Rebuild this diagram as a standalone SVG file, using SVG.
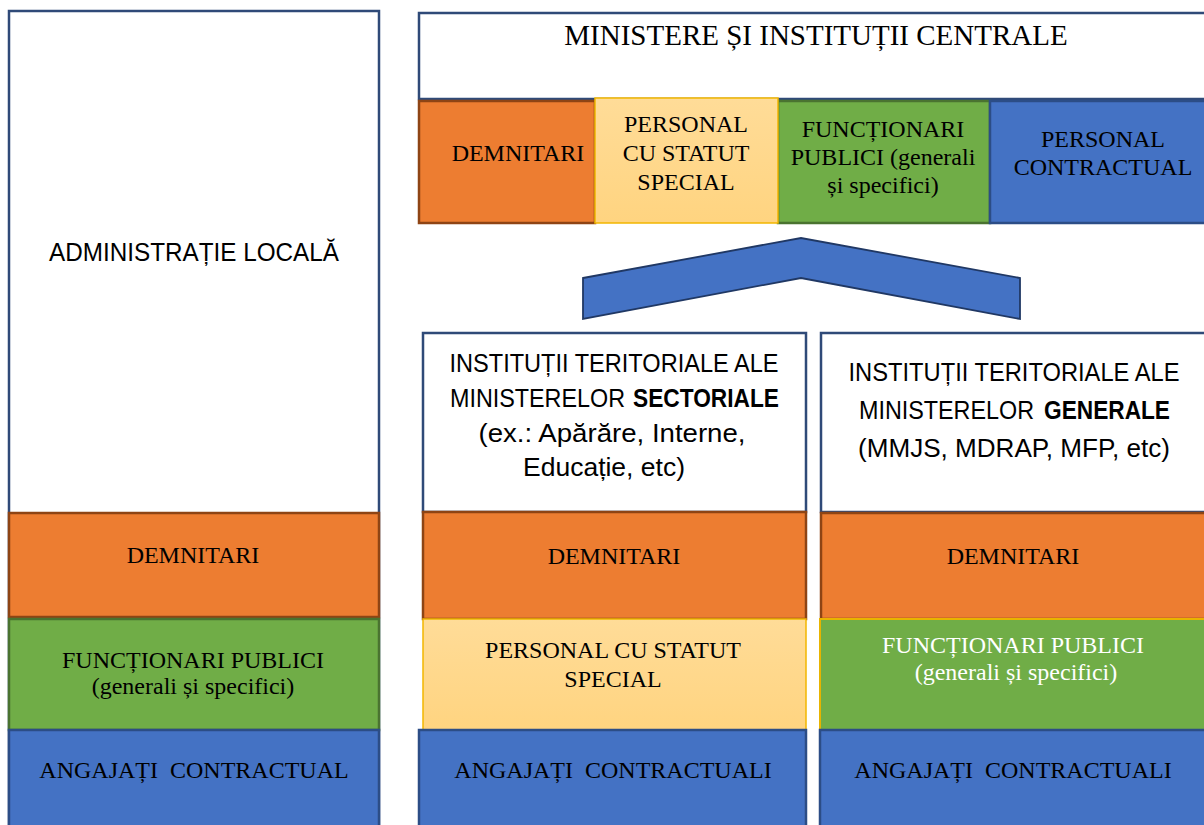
<svg xmlns="http://www.w3.org/2000/svg" width="1204" height="825" viewBox="0 0 1204 825">
<style>
.wb{fill:#ffffff;stroke:#2F4A78;stroke-width:2.5}
.or{fill:#ED7D31;stroke:#8E4414;stroke-width:2.5}
.gr{fill:#70AD47;stroke:#4A7330;stroke-width:2.5}
.grg{fill:#70AD47;stroke:#E8B400;stroke-width:2}
.ye{fill:url(#yg);stroke:#F2B600;stroke-width:1.5}
.bl{fill:#4472C4;stroke:#2C4D86;stroke-width:2.5}
.tr{font-family:"Liberation Serif","Times New Roman",serif;font-size:24px;fill:#000;text-anchor:middle}
.tw{fill:#ffffff}
.ts{font-family:"Liberation Sans",Arial,sans-serif;font-size:25px;fill:#000;text-anchor:middle}
.st{text-anchor:start}
.en{text-anchor:end;font-weight:bold}
.big{font-size:29px}
.pre{white-space:pre}
</style>
<defs>
<linearGradient id="yg" x1="0" y1="0" x2="0" y2="1">
<stop offset="0" stop-color="#FFDC98"/>
<stop offset="1" stop-color="#FFD480"/>
</linearGradient>
</defs>

<g id="admin-locala">
<rect class="wb" x="9" y="11" width="370" height="830"/>
<text class="ts" x="194" y="261" textLength="290" lengthAdjust="spacingAndGlyphs">ADMINISTRAȚIE LOCALĂ</text>
</g>
<g id="local-demnitari">
<rect class="or" x="9" y="513" width="370" height="104"/>
<text class="tr" x="193" y="563">DEMNITARI</text>
</g>
<g id="local-functionari">
<rect class="gr" x="9" y="619" width="370" height="111"/>
<text class="tr" x="193" y="668">FUNCȚIONARI PUBLICI</text>
<text class="tr" x="193" y="694">(generali și specifici)</text>
</g>
<g id="local-angajati">
<rect class="bl" x="9" y="730" width="370" height="110"/>
<text class="tr pre" x="194" y="778" xml:space="preserve">ANGAJAȚI  CONTRACTUAL</text>
</g>

<g id="ministere">
<rect class="wb" x="419" y="13" width="800" height="86"/>
<text class="tr big" x="816" y="45">MINISTERE ȘI INSTITUȚII CENTRALE</text>
</g>
<g id="min-demnitari">
<rect class="or" x="419" y="101" width="176" height="122"/>
<text class="tr" x="518" y="161">DEMNITARI</text>
</g>
<g id="min-functionari">
<rect class="gr" x="778" y="101" width="212" height="122"/>
<text class="tr" x="883" y="137">FUNCȚIONARI</text>
<text class="tr" x="883" y="165">PUBLICI (generali</text>
<text class="tr" x="883" y="193">și specifici)</text>
</g>
<g id="min-contractual">
<rect class="bl" x="990" y="101" width="230" height="122"/>
<text class="tr" x="1103" y="147">PERSONAL</text>
<text class="tr" x="1103" y="175">CONTRACTUAL</text>
</g>
<g id="min-statut">
<rect class="ye" x="595" y="98" width="183" height="125"/>
<text class="tr" x="686" y="132">PERSONAL</text>
<text class="tr" x="686" y="161">CU STATUT</text>
<text class="tr" x="686" y="190">SPECIAL</text>
</g>

<g id="connectors">
<polygon points="583,278 801,238 1020,278 1020,319 801,278 583,319" fill="#4472C4" stroke="#203864" stroke-width="1.8" stroke-linejoin="miter"/>
</g>

<g id="sectoriale">
<rect class="wb" x="423" y="333" width="383" height="179"/>
<text class="ts" x="614" y="372" textLength="329" lengthAdjust="spacingAndGlyphs">INSTITUȚII TERITORIALE ALE</text>
<text class="ts st" x="450" y="407" textLength="175" lengthAdjust="spacingAndGlyphs">MINISTERELOR</text>
<text class="ts en" x="779" y="407" textLength="146" lengthAdjust="spacingAndGlyphs">SECTORIALE</text>
<text class="ts" x="612" y="442" textLength="267" lengthAdjust="spacingAndGlyphs">(ex.: Apărăre, Interne,</text>
<text class="ts" x="604" y="476" textLength="162" lengthAdjust="spacingAndGlyphs">Educație, etc)</text>
</g>
<g id="sect-demnitari">
<rect class="or" x="423" y="512" width="383" height="107"/>
<text class="tr" x="614" y="564">DEMNITARI</text>
</g>
<g id="sect-statut">
<rect class="ye" x="423" y="619" width="383" height="111"/>
<text class="tr" x="613" y="658">PERSONAL CU STATUT</text>
<text class="tr" x="613" y="687">SPECIAL</text>
</g>
<g id="sect-angajati">
<rect class="bl" x="419" y="730" width="387" height="110"/>
<text class="tr pre" x="613" y="778" xml:space="preserve">ANGAJAȚI  CONTRACTUALI</text>
</g>

<g id="generale">
<rect class="wb" x="821" y="333" width="400" height="179"/>
<text class="ts" x="1014" y="381" textLength="331" lengthAdjust="spacingAndGlyphs">INSTITUȚII TERITORIALE ALE</text>
<text class="ts st" x="859" y="419" textLength="175" lengthAdjust="spacingAndGlyphs">MINISTERELOR</text>
<text class="ts en" x="1170" y="419" textLength="126" lengthAdjust="spacingAndGlyphs">GENERALE</text>
<text class="ts" x="1014" y="457" textLength="312" lengthAdjust="spacingAndGlyphs">(MMJS, MDRAP, MFP, etc)</text>
</g>
<g id="gen-demnitari">
<rect class="or" x="821" y="513" width="400" height="106"/>
<text class="tr" x="1013" y="564">DEMNITARI</text>
</g>
<g id="gen-functionari">
<rect class="grg" x="820" y="619" width="400" height="111"/>
<text class="tr tw" x="1013" y="653">FUNCȚIONARI PUBLICI</text>
<text class="tr tw" x="1016" y="680">(generali și specifici)</text>
</g>
<g id="gen-angajati">
<rect class="bl" x="820" y="730" width="400" height="110"/>
<text class="tr pre" x="1013" y="778" xml:space="preserve">ANGAJAȚI  CONTRACTUALI</text>
</g>
</svg>
